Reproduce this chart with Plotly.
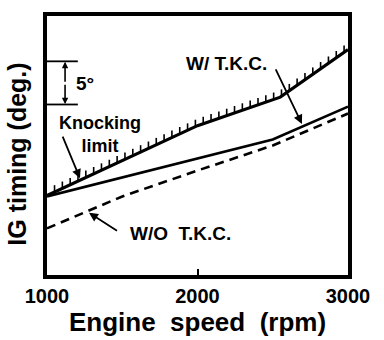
import numpy as np
import plotly.graph_objects as go

# Engine speed (rpm)
rpm_knock = [1000, 2000, 2550, 3000]
knock_limit = [9.2, 17.3, 20.6, 26.1]

rpm_tkc = [1000, 2500, 3000]
ig_with_tkc = [9.1, 15.7, 19.5]

rpm_wo = [1000, 1500, 2000, 2500, 3000]
ig_without_tkc = [5.4, 9.1, 12.1, 15.0, 18.7]

x_ticks = [1000, 2000, 3000]
x_tick_labels = ["1000", "2000", "3000"]

FONT = "Liberation Sans, Arial, sans-serif"

fig = go.Figure()

# knocking limit line
fig.add_trace(go.Scatter(x=rpm_knock, y=knock_limit, mode="lines",
                         line=dict(color="black", width=3.2), showlegend=False))
# hatch ticks above knocking limit
hx, hy = [], []
for r in np.arange(1050, 3001, 52):
    yv = float(np.interp(r, rpm_knock, knock_limit))
    hx += [r, r, None]
    hy += [yv, yv + 0.8, None]
fig.add_trace(go.Scatter(x=hx, y=hy, mode="lines",
                         line=dict(color="black", width=1.6), showlegend=False))
# with TKC
fig.add_trace(go.Scatter(x=rpm_tkc, y=ig_with_tkc, mode="lines",
                         line=dict(color="black", width=2.6), showlegend=False))
# without TKC
fig.add_trace(go.Scatter(x=rpm_wo, y=ig_without_tkc, mode="lines",
                         line=dict(color="black", width=2.6, dash="9px,6px"),
                         showlegend=False))

tfont = dict(family=FONT, size=19, color="black", weight="bold")

annotations = [
    dict(x=2190, y=24.5, text="W/ T.K.C.", showarrow=False, font=tfont),
    dict(x=2694, y=17.5, ax=2515, ay=24.0, axref="x", ayref="y", text="",
         showarrow=True, arrowhead=2, arrowsize=1, arrowwidth=1.8, arrowcolor="black"),
    dict(x=1352, y=16.3, text="Knocking<br>limit", showarrow=False,
         font=dict(family=FONT, size=18, color="black", weight="bold")),
    dict(x=1219, y=11.2, ax=1100, ay=16.2, axref="x", ayref="y", text="",
         showarrow=True, arrowhead=2, arrowsize=1, arrowwidth=1.8, arrowcolor="black"),
    dict(x=1884, y=4.8, text="W/O  T.K.C.", showarrow=False, font=tfont),
    dict(x=1279, y=7.2, ax=1475, ay=5.0, axref="x", ayref="y", text="",
         showarrow=True, arrowhead=2, arrowsize=1, arrowwidth=1.8, arrowcolor="black"),
    dict(x=1250, y=22.2, text="5°", showarrow=False, font=tfont),
    dict(x=1120, y=24.7, ax=1120, ay=22.2, axref="x", ayref="y", text="",
         showarrow=True, arrowhead=2, arrowsize=0.8, arrowwidth=1.6, arrowcolor="black"),
    dict(x=1120, y=19.8, ax=1120, ay=22.2, axref="x", ayref="y", text="",
         showarrow=True, arrowhead=2, arrowsize=0.8, arrowwidth=1.6, arrowcolor="black"),
    # y-axis title
    dict(xref="paper", yref="paper", x=-0.1, y=0.468, xanchor="center", yanchor="middle",
         text="IG timing (deg.)", textangle=-90, showarrow=False,
         font=dict(family=FONT, size=25, color="black", weight="bold")),
]

shapes = [
    dict(type="line", xref="x", yref="y", x0=1000, x1=1205, y0=24.75, y1=24.75,
         line=dict(color="black", width=1.8)),
    dict(type="line", xref="x", yref="y", x0=1000, x1=1205, y0=19.75, y1=19.75,
         line=dict(color="black", width=1.8)),
]

fig.update_layout(
    width=384, height=340,
    margin=dict(l=47, r=36, t=12, b=65),
    paper_bgcolor="white", plot_bgcolor="white",
    annotations=annotations, shapes=shapes,
    xaxis=dict(range=[1000, 3000], tickvals=x_ticks, ticktext=x_tick_labels,
               showgrid=False, zeroline=False, showline=True, mirror=True,
               linecolor="black", linewidth=4, ticks="inside", ticklen=6,
               tickwidth=2, tickcolor="black",
               tickfont=dict(family=FONT, size=20, color="black", weight="bold"),
               title=dict(text="Engine  speed  (rpm)", standoff=2,
                          font=dict(family=FONT, size=26, color="black", weight="bold"))),
    yaxis=dict(range=[0, 30], showticklabels=False, ticks="",
               showgrid=False, zeroline=False, showline=True, mirror=True,
               linecolor="black", linewidth=4),
)

fig.write_html("out.html")
